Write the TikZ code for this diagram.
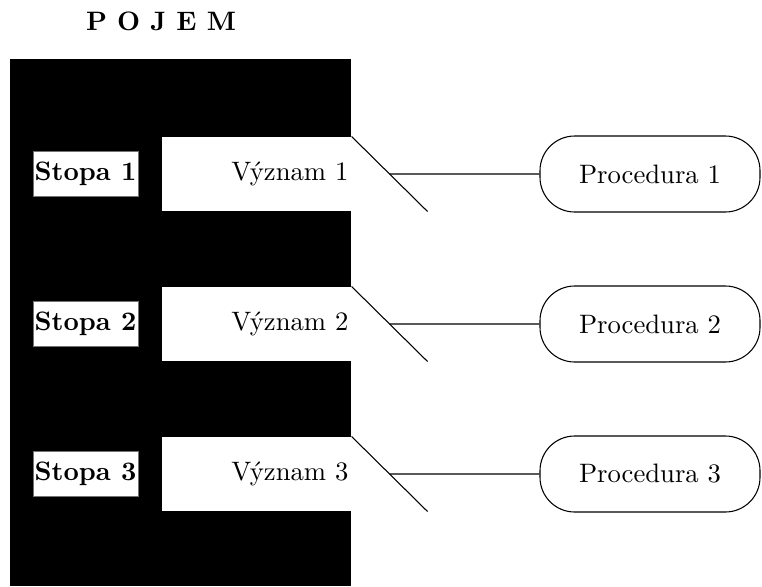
\documentclass[tikz,border=0pt]{standalone}
\usetikzlibrary{calc}
\begin{document}
\begin{tikzpicture}[x=0.375pt,y=-0.375pt,
  panel/.style={rectangle,fill=white,minimum width=70.9pt,minimum height=27.75pt,
    inner xsep=1pt,inner ysep=0pt,text width=68.9pt,align=right},
  stopabox/.style={rectangle,fill=white,draw=black!55,line width=0.3pt,
    minimum width=39.4pt,minimum height=16.9pt,inner sep=0pt,font=\bfseries},
  procbox/.style={rectangle,draw,line width=0.4pt,rounded corners=13pt,
    minimum width=82.5pt,minimum height=28.5pt,inner sep=0pt},
  conn/.style={line width=0.4pt}]
\useasboundingbox (0,0) rectangle (762,586);
\node[font=\bfseries] (title) at (161,21.5) {P O J E M};
\fill[black] (10,59) rectangle (351,586);
\foreach \i/\y in {1/174,2/324,3/474}{
  \node[panel] (v\i) at (256.5,\y) {V\'yznam \i};
  \node[stopabox] (s\i) at (85.5,\y) {Stopa \i};
  \node[procbox] (p\i) at (650,\y) {Procedura \i};
  \coordinate (d\i) at ($(v\i.south east)+(76,0)$);
  \draw[conn] (v\i.north east) -- (d\i);
  \draw[conn] ($(v\i.north east)!0.5!(d\i)$) -- (p\i.west);
}
\end{tikzpicture}
\end{document}
